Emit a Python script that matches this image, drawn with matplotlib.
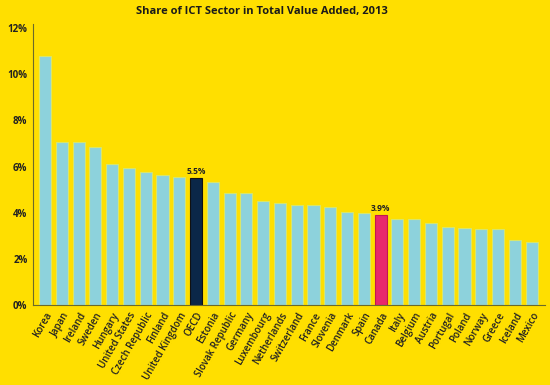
import matplotlib.pyplot as plt
import numpy as np

countries = ['Korea', 'Japan', 'Ireland', 'Sweden', 'Hungary', 'United States',
             'Czech Republic', 'Finland', 'United Kingdom', 'OECD', 'Estonia',
             'Slovak Republic', 'Germany', 'Luxembourg', 'Netherlands', 'Switzerland',
             'France', 'Slovenia', 'Denmark', 'Spain', 'Canada', 'Italy', 'Belgium',
             'Austria', 'Portugal', 'Poland', 'Norway', 'Greece', 'Iceland', 'Mexico']
shares = [10.8, 7.07, 7.05, 6.86, 6.1, 5.92, 5.76, 5.63, 5.54, 5.5, 5.34,
          4.86, 4.86, 4.52, 4.43, 4.33, 4.33, 4.24, 4.04, 3.97, 3.9, 3.71, 3.71,
          3.54, 3.39, 3.35, 3.28, 3.28, 2.81, 2.73]
highlight = {'OECD': '#0b2748', 'Canada': '#e8286c'}
yticks = [0, 2, 4, 6, 8, 10, 12]

plt.rcParams['font.family'] = ['Open Sans', 'DejaVu Sans']
bg = '#ffdf00'

fig = plt.figure(figsize=(5.5, 3.85), dpi=100, facecolor=bg)
ax = fig.add_axes([0.06, 0.208, 0.931, 0.729], facecolor=bg)

x = np.arange(len(countries))
colors = [highlight.get(c, '#8dd2dc') for c in countries]
edges = ['#111111' if c == 'OECD' else ('#c0184f' if c == 'Canada' else '#d9e66a') for c in countries]
ax.bar(x, shares, width=0.72, color=colors, edgecolor=edges, linewidth=0.8)

for c in highlight:
    i = countries.index(c)
    ax.text(i, shares[i] + 0.08, f'{shares[i]:.1f}%', ha='center', va='bottom',
            fontsize=6, fontweight='bold', color='#222222')

ax.set_xlim(-0.72, 29.8)
ax.set_ylim(0, 12.17)
ax.set_yticks(yticks)
ax.set_yticklabels([f'{t}%' for t in yticks], fontsize=7, fontweight='bold', color='#222222')
ax.set_xticks(x)
ax.set_xticklabels(countries, rotation=60, ha='right', rotation_mode='anchor',
                   fontsize=7, fontweight='semibold', color='#222222')
ax.tick_params(length=0, pad=4)
ax.tick_params(axis='x', pad=4)
for s in ['top', 'right']:
    ax.spines[s].set_visible(False)
for s in ['left', 'bottom']:
    ax.spines[s].set_color('#6b6a2a')
    ax.spines[s].set_linewidth(0.8)

fig.suptitle('Share of ICT Sector in Total Value Added, 2013', x=0.477, y=0.985,
             fontsize=8, fontweight='bold', color='#1a1a1a')

fig.savefig('out.png', dpi=100, facecolor=bg)
